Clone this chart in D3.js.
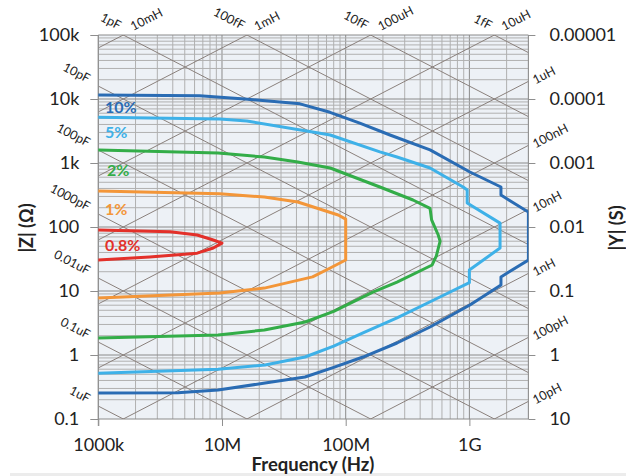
<!DOCTYPE html>
<html>
<head>
<meta charset="utf-8">
<script src="https://cdn.jsdelivr.net/npm/d3@7/dist/d3.min.js"></script>
<style>
  html, body { margin: 0; padding: 0; background: #ffffff; }
  svg { display: block; }
  text { font-family: Lato, "Open Sans", "DejaVu Sans", sans-serif; fill: #222; }
</style>
</head>
<body>
<svg id="chart" width="626" height="476"></svg>
<script>
// ---------------- DATA ----------------
const xTickValues = [1e6, 1e7, 1e8, 1e9];
const xTickLabels = ["1000k", "10M", "100M", "1G"];
const yTickValues = [0.1, 1, 10, 100, 1e3, 1e4, 1e5];
const yLeftLabels = ["0.1", "1", "10", "100", "1k", "10k", "100k"];
const yRightLabels = ["10", "1", "0.1", "0.01", "0.001", "0.0001", "0.00001"];

const capValues = [1e-15, 1e-14, 1e-13, 1e-12, 1e-11, 1e-10, 1e-9, 1e-8, 1e-7, 1e-6];
const capLabels = ["1fF", "10fF", "100fF", "1pF", "10pF", "100pF", "1000pF", "0.01uF", "0.1uF", "1uF"];
const indValues = [1e-11, 1e-10, 1e-9, 1e-8, 1e-7, 1e-6, 1e-5, 1e-4, 1e-3, 1e-2];
const indLabels = ["10pH", "100pH", "1nH", "10nH", "100nH", "1uH", "10uH", "100uH", "1mH", "10mH"];

// accuracy contours: [frequency Hz, |Z| ohm]
const acc10 = [[1e6,11.5e3],[6.6e6,11.2e3],[15.3e6,10e3],[42.7e6,8.4e3],[74.7e6,6.2e3],[130e6,4.2e3],[228e6,2.74e3],[481e6,1.6e3],[1.01e9,724],[1.8e9,422],[1.8e9,316],[3e9,171],[3e9,30.5],[1.8e9,16.6],[1.8e9,12.4],[1.01e9,6.04],[481e6,2.74],[260e6,1.54],[138e6,0.93],[80e6,0.64],[46.9e6,0.453],[22.3e6,0.365],[9.3e6,0.284],[4.4e6,0.258],[1e6,0.255]];
const acc5 = [[1e6,5.2e3],[9.6e6,4.87e3],[15.9e6,4.53e3],[54e6,3.05e3],[75e6,2.74e3],[189e6,1.49e3],[260e6,1.24e3],[481e6,835],[890e6,422],[960e6,379],[960e6,237],[1.77e9,115],[1.77e9,47],[1.0e9,21.3],[1.0e9,13.5],[578e6,8.06],[260e6,3.79],[138e6,2.21],[80e6,1.38],[46.9e6,0.93],[22.3e6,0.70],[9.3e6,0.60],[1e6,0.52]];
const acc2 = [[1e6,1.6e3],[9.3e6,1.43e3],[22e6,1.24e3],[41e6,1.04e3],[75e6,835],[189e6,422],[350e6,264],[481e6,195],[495e6,129],[560e6,75],[580e6,60],[540e6,35],[500e6,25.5],[260e6,13.8],[166e6,9.6],[80e6,4.8],[47e6,3.28],[22e6,2.46],[9.3e6,2.05],[1e6,1.85]];
const acc1 = [[1e6,365],[9.6e6,330],[22e6,294],[41e6,246],[87e6,154],[100e6,133],[100e6,30.5],[75e6,22.9],[54e6,16.6],[22e6,11.1],[9.6e6,9.3],[1e6,7.8]];
const acc08 = [[1e6,90],[3.8e6,84],[6.3e6,75],[8.5e6,62.7],[10e6,56],[8.5e6,47],[6.3e6,39],[2.6e6,34],[1e6,30.5]];

const seriesNames = ["10%", "5%", "2%", "1%", "0.8%"];
const seriesData = [acc10, acc5, acc2, acc1, acc08];
const seriesColors = ["#2a6cb4", "#3eb1e8", "#33ad48", "#f39639", "#e3302a"];

// ---------------- LAYOUT ----------------
const svg = d3.select("#chart");
const L = 98.3, R = 528.4, T = 35, B = 419;
const x = d3.scaleLog().domain([1e6, 3e9]).range([L, R]);
const y = d3.scaleLog().domain([0.1, 1e5]).range([B, T]);

svg.append("rect").attr("x", 10).attr("y", 473).attr("width", 616).attr("height", 3).attr("fill", "#ececec");

svg.append("defs").append("clipPath").attr("id", "plotClip")
  .append("rect").attr("x", L).attr("y", T).attr("width", R - L).attr("height", B - T);

svg.append("rect").attr("x", L).attr("y", T).attr("width", R - L).attr("height", B - T)
  .attr("fill", "#edf1f6");

// grid
const grid = svg.append("g");
const xMinor = [], yMinor = [];
for (let e = 6; e <= 9; e++) for (let k = 1; k <= 9; k++) { const v = k * Math.pow(10, e); if (v <= 3e9) xMinor.push(v); }
for (let e = -1; e <= 5; e++) for (let k = 1; k <= 9; k++) { const v = k * Math.pow(10, e); if (v <= 1e5 + 1) yMinor.push(v); }
const isMajor = d => Math.abs(Math.log10(d) - Math.round(Math.log10(d))) < 1e-9;
grid.selectAll("line.vx").data(xMinor).join("line")
  .attr("x1", d => x(d)).attr("x2", d => x(d)).attr("y1", T).attr("y2", B)
  .attr("stroke", d => isMajor(d) ? "#8a8a8a" : "#b0b0b0")
  .attr("stroke-width", 1);
grid.selectAll("line.hy").data(yMinor).join("line")
  .attr("y1", d => y(d)).attr("y2", d => y(d)).attr("x1", L).attr("x2", R)
  .attr("stroke", d => isMajor(d) ? "#8a8a8a" : "#b0b0b0")
  .attr("stroke-width", 1);

// diagonal L/C lines
const diag = svg.append("g").attr("clip-path", "url(#plotClip)");
const fEnds = [1e6, 3e9];
diag.selectAll("line.cap").data(capValues).join("line")
  .attr("x1", x(fEnds[0])).attr("x2", x(fEnds[1]))
  .attr("y1", c => y(1 / (2 * Math.PI * fEnds[0] * c)))
  .attr("y2", c => y(1 / (2 * Math.PI * fEnds[1] * c)))
  .attr("stroke", "#8a807c").attr("stroke-width", 1);
diag.selectAll("line.ind").data(indValues).join("line")
  .attr("x1", x(fEnds[0])).attr("x2", x(fEnds[1]))
  .attr("y1", l => y(2 * Math.PI * fEnds[0] * l))
  .attr("y2", l => y(2 * Math.PI * fEnds[1] * l))
  .attr("stroke", "#8a807c").attr("stroke-width", 1);

// diagonal labels
const ang = Math.atan((y(1) - y(10)) / (x(1e7) - x(1e6))) * 180 / Math.PI;
const dl = svg.append("g").style("font-size", "12.5px");
capValues.forEach((c, i) => {
  const z0 = 1 / (2 * Math.PI * 1e6 * c);
  let px, py;
  if (z0 > 1e5) { px = x(1 / (2 * Math.PI * 1e5 * c)) - 5; py = T - 5; }
  else if (z0 >= 0.1) { px = L - 11; py = y(z0) - 3; }
  else return;
  dl.append("text").attr("text-anchor", "end")
    .attr("transform", `translate(${px},${py}) rotate(${ang})`).text(capLabels[i]);
});
indValues.forEach((l, i) => {
  const z1 = 2 * Math.PI * 3e9 * l;
  let px, py;
  if (z1 > 1e5) { px = x(1e5 / (2 * Math.PI * l)) + 10; py = T - 4; }
  else if (z1 >= 0.1) { px = R + 7; py = y(z1) + 3; }
  else return;
  dl.append("text").attr("text-anchor", "start")
    .attr("transform", `translate(${px},${py}) rotate(${-ang})`).text(indLabels[i]);
});

// axes
const axFont = "18px";
const axL = svg.append("g").attr("transform", `translate(${L},0)`)
  .call(d3.axisLeft(y).tickValues(yTickValues).tickFormat((d, i) => yLeftLabels[i]).tickSize(8).tickPadding(11));
const axR = svg.append("g").attr("transform", `translate(${R},0)`)
  .call(d3.axisRight(y).tickValues(yTickValues).tickFormat((d, i) => yRightLabels[i]).tickSize(7).tickPadding(14));
const axB = svg.append("g").attr("transform", `translate(0,${B})`)
  .call(d3.axisBottom(x).tickValues(xTickValues).tickFormat((d, i) => xTickLabels[i]).tickSize(7).tickPadding(12));
[axL, axR, axB].forEach(a => {
  a.select(".domain").remove();
  a.selectAll(".tick line").attr("stroke", "#8e8e8e");
  a.selectAll(".tick text").style("font-size", axFont).style("font-family", "Lato, 'Open Sans', sans-serif").attr("fill", "#222");
});
// plot left/right borders extended
svg.append("line").attr("x1", L).attr("x2", L).attr("y1", T).attr("y2", B + 7).attr("stroke", "#8e8e8e");
svg.append("line").attr("x1", R).attr("x2", R).attr("y1", T).attr("y2", B).attr("stroke", "#8e8e8e");

// curves
const line = d3.line().x(d => x(d[0])).y(d => y(d[1]));
const curves = svg.append("g").attr("clip-path", "url(#plotClip)");
seriesData.forEach((s, i) => {
  curves.append("path").attr("d", line(s)).attr("fill", "none")
    .attr("stroke", seriesColors[i]).attr("stroke-width", 3)
    .attr("stroke-linejoin", "round").attr("stroke-linecap", "round");
});

// series labels
const labPos = [[105, 113], [105, 138], [107, 176], [105, 215], [105, 251]];
seriesNames.forEach((n, i) => {
  svg.append("text").attr("x", labPos[i][0]).attr("y", labPos[i][1])
    .style("font-size", "16px").style("font-weight", "bold")
    .style("fill", seriesColors[i]).text(n);
});

// axis titles
svg.append("text").attr("x", 313).attr("y", 471).attr("text-anchor", "middle")
  .style("font-size", "18.5px").style("font-weight", "bold").text("Frequency (Hz)");
svg.append("text").attr("transform", "translate(26,228) rotate(-90)").attr("text-anchor", "middle")
  .attr("dominant-baseline", "central")
  .style("font-size", "18px").style("font-weight", "bold").text("|Z| (Ω)");
svg.append("text").attr("transform", "translate(616,228) rotate(-90)").attr("text-anchor", "middle")
  .attr("dominant-baseline", "central")
  .style("font-size", "18px").style("font-weight", "bold").text("|Y| (S)");
</script>
</body>
</html>
